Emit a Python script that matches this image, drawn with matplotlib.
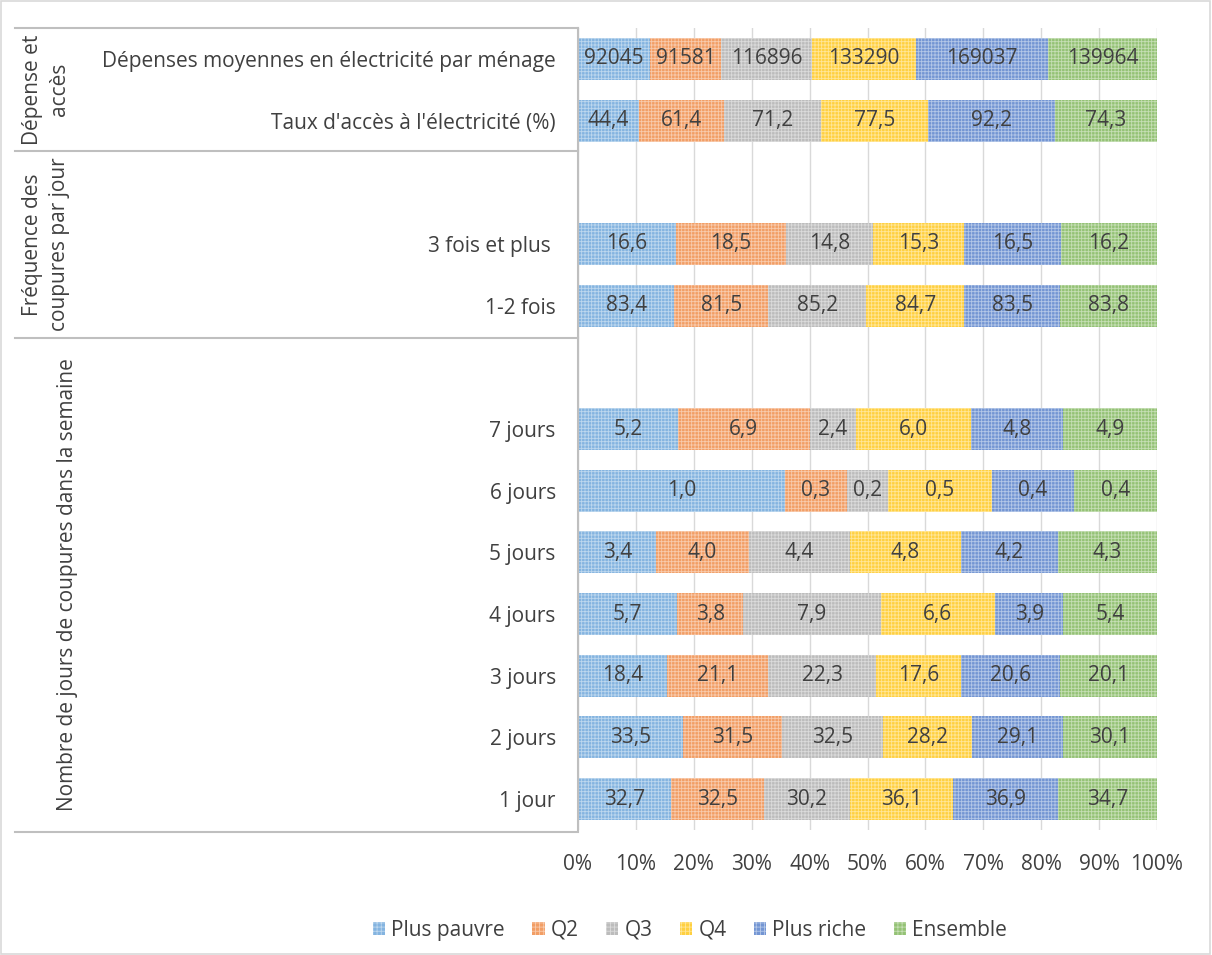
import numpy as np
import matplotlib.pyplot as plt
from matplotlib.lines import Line2D
from matplotlib.patches import Patch

plt.rcParams['font.family'] = ['Open Sans', 'DejaVu Sans']
plt.rcParams['hatch.linewidth'] = 0.6

# rows, top to bottom ('' = empty spacer row)
rows = ["Dépenses moyennes en électricité par ménage",
        "Taux d'accès à l'électricité (%)",
        "",
        "3 fois et plus ",
        "1-2 fois",
        "",
        "7 jours", "6 jours", "5 jours", "4 jours", "3 jours", "2 jours", "1 jour"]

series = ["Plus pauvre", "Q2", "Q3", "Q4", "Plus riche", "Ensemble"]
colors = ["#5B9BD5", "#ED7D31", "#A5A5A5", "#FFC000", "#4472C4", "#70AD47"]

plus_pauvre = [92045, 44.4, None, 16.6, 83.4, None, 5.2, 1.0, 3.4, 5.7, 18.4, 33.5, 32.7]
q2          = [91581, 61.4, None, 18.5, 81.5, None, 6.9, 0.3, 4.0, 3.8, 21.1, 31.5, 32.5]
q3          = [116896, 71.2, None, 14.8, 85.2, None, 2.4, 0.2, 4.4, 7.9, 22.3, 32.5, 30.2]
q4          = [133290, 77.5, None, 15.3, 84.7, None, 6.0, 0.5, 4.8, 6.6, 17.6, 28.2, 36.1]
plus_riche  = [169037, 92.2, None, 16.5, 83.5, None, 4.8, 0.4, 4.2, 3.9, 20.6, 29.1, 36.9]
ensemble    = [139964, 74.3, None, 16.2, 83.8, None, 4.9, 0.4, 4.3, 5.4, 20.1, 30.1, 34.7]

groups = ["Dépense et\naccès", "Fréquence des\ncoupures par jour",
          "Nombre de jours de coupures dans la semaine"]

data = [plus_pauvre, q2, q3, q4, plus_riche, ensemble]

def lighten(c, f):
    c = np.array(plt.matplotlib.colors.to_rgb(c))
    return tuple(c + (1 - c) * f)

W, H = 1212, 955
FS = 15
fig = plt.figure(figsize=(W / 100, H / 100), dpi=100)
ax = fig.add_axes([578 / W, 1 - 830 / H, (1157 - 578) / W, (830 - 28) / H])

y = np.arange(len(rows))
txt = "#404040"
for i, (name, vals, col) in enumerate(zip(series, data, colors)):
    for j in range(len(rows)):
        if vals[j] is None:
            continue
        tot = sum(d[j] for d in data)
        left = sum(d[j] for d in data[:i]) / tot
        w = vals[j] / tot
        ax.barh(y[j], w, left=left, height=0.68, color=lighten(col, 0.25),
                edgecolor=lighten(col, 0.6), hatch='+++++', linewidth=0, zorder=2)
        if vals[j] > 1000:
            lab = str(vals[j])
        else:
            lab = f"{vals[j]:.1f}".replace('.', ',')
        ax.text(left + w / 2, y[j], lab, ha='center', va='center',
                fontsize=FS, color=txt, zorder=3)

ax.set_xlim(0, 1)
ax.set_ylim(len(rows) - 0.5, -0.5)
ax.set_xticks(np.arange(0, 1.01, 0.1))
ax.set_xticklabels([f"{int(round(v * 100))}%" for v in np.arange(0, 1.01, 0.1)],
                   fontsize=FS, color=txt)
ax.tick_params(axis='x', length=0, pad=17)
ax.set_yticks(y)
ax.set_yticklabels(rows, fontsize=FS, color=txt)
ax.tick_params(axis='y', length=0, pad=16)
ax.grid(axis='x', color='#D9D9D9', linewidth=1, zorder=0)
ax.set_axisbelow(True)
for s in ['top', 'right', 'bottom']:
    ax.spines[s].set_visible(False)
ax.spines['left'].set_color('#BFBFBF')
ax.spines['left'].set_linewidth(1.5)

# table lines on the left
x0 = 15 / W
x1 = 578 / W
for py in [28, 151, 338, 832]:
    yy = 1 - py / H
    fig.add_artist(Line2D([x0, x1], [yy, yy], color='#BFBFBF', linewidth=1.5))

# group labels
spans = [(28, 151), (151, 338), (338, 832)]
gx = [46, 46, 68]
for g, (top, bot), xg in zip(groups, spans, gx):
    fig.text(xg / W, 1 - (top + bot) / 2 / H, g, rotation=90, ha='center', va='center',
             fontsize=FS, color=txt, multialignment='center', linespacing=1.35)

handles = [Patch(facecolor=lighten(c, 0.25), edgecolor=lighten(c, 0.6), hatch='++++', linewidth=0)
           for c in colors]
fig.legend(handles, series, loc='center', bbox_to_anchor=(690 / W, 1 - 930 / H), ncol=6,
           frameon=False, fontsize=FS, handlelength=0.6, handleheight=0.6,
           columnspacing=1.3, handletextpad=0.3, labelcolor=txt)

# outer border
fig.add_artist(plt.Rectangle((1 / W, 1 / H), 1 - 3 / W, 1 - 2 / H, fill=False,
                             edgecolor='#D9D9D9', linewidth=1.2, transform=fig.transFigure))

fig.savefig('out.png', dpi=100)
